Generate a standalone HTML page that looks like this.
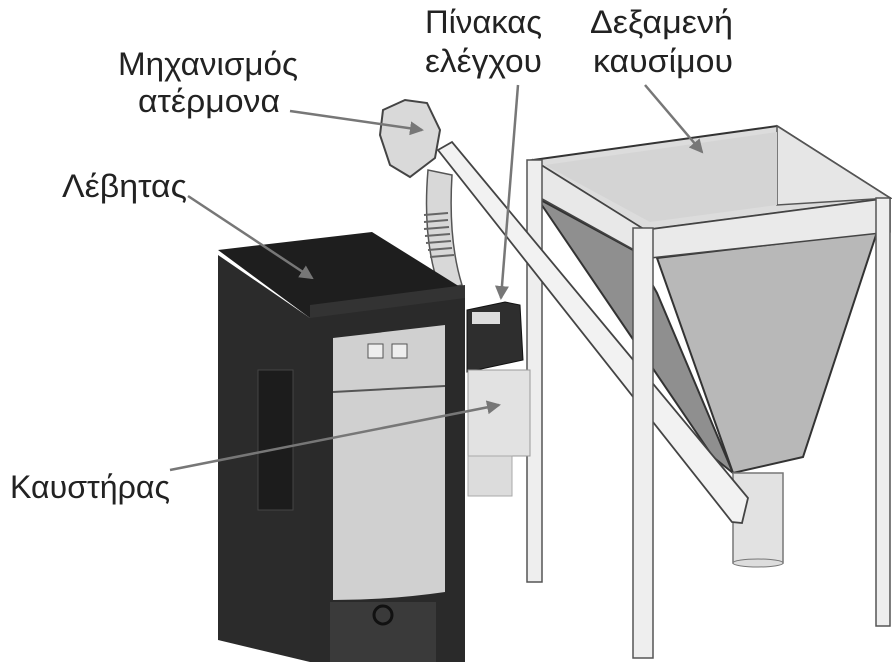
<!DOCTYPE html>
<html><head><meta charset="utf-8"><style>
html,body{margin:0;padding:0;background:#fff;}
svg{display:block}
text{font-family:"Liberation Sans","DejaVu Sans",sans-serif;font-size:32px;fill:#222}
</style></head><body>
<svg width="892" height="662" viewBox="0 0 892 662" xmlns="http://www.w3.org/2000/svg">
<defs><marker id="a" markerWidth="14" markerHeight="14" refX="12" refY="7" orient="auto" markerUnits="userSpaceOnUse" viewBox="0 0 14 14"><path d="M0,0 L14,7 L0,14z" fill="#777"/></marker></defs>
<rect width="892" height="662" fill="#fff"/>
<!-- hopper interior -->
<polygon points="533,160 777,126 890,198 645,230" fill="#dcdcdc" stroke="#333" stroke-width="2"/>
<polygon points="777,126 777,205 890,198" fill="#e6e6e6" stroke="#555" stroke-width="1.5"/>
<polygon points="545,165 777,132 777,205 650,222" fill="#d4d4d4"/>
<!-- funnel side (darker) -->
<polygon points="537,198 633,250 657,293 733,473 713,457" fill="#8f8f8f" stroke="#333" stroke-width="2"/>
<!-- funnel front -->
<polygon points="657,258 877,232 803,457 733,473" fill="#b8b8b8" stroke="#333" stroke-width="2"/>
<!-- cylinder -->
<rect x="733" y="473" width="50" height="90" fill="#e2e2e2" stroke="#777" stroke-width="1.5"/>
<ellipse cx="758" cy="563" rx="25" ry="4" fill="#ddd" stroke="#777"/>
<!-- side bar & front bar -->
<polygon points="533,160 645,230 645,256 537,196" fill="#e8e8e8" stroke="#444" stroke-width="1.5"/>
<polygon points="645,230 890,198 890,232 650,258" fill="#eaeaea" stroke="#444" stroke-width="1.5"/>
<!-- legs -->
<rect x="527" y="160" width="15" height="422" fill="#eee" stroke="#555" stroke-width="1.5"/>
<!-- auger tube -->
<polygon points="438,150 452,142 748,498 742,523 732,522" fill="#f2f2f2" stroke="#444" stroke-width="1.8"/>
<rect x="633" y="228" width="20" height="430" fill="#eee" stroke="#555" stroke-width="1.5"/>
<rect x="876" y="198" width="14" height="428" fill="#eee" stroke="#555" stroke-width="1.5"/>
<!-- hose -->
<path d="M428,170 Q422,240 440,290 L462,285 Q448,240 452,175 Z" fill="#d8d8d8" stroke="#555" stroke-width="1.5"/>
<g stroke="#666" stroke-width="2"><line x1="424" y1="215" x2="448" y2="213"/><line x1="424" y1="222" x2="448" y2="220"/><line x1="424" y1="229" x2="449" y2="227"/><line x1="425" y1="236" x2="450" y2="234"/><line x1="426" y1="243" x2="451" y2="241"/><line x1="428" y1="250" x2="452" y2="248"/><line x1="430" y1="257" x2="454" y2="255"/></g>
<!-- motor -->
<polygon points="383,110 405,100 427,103 440,130 435,158 410,177 390,165 380,135" fill="#d9d9d9" stroke="#444" stroke-width="2"/>
<!-- control panel & burner -->
<polygon points="467,310 505,302 520,305 523,360 467,372" fill="#2e2e2e" stroke="#111"/>
<rect x="472" y="312" width="28" height="12" fill="#ddd"/>
<rect x="468" y="370" width="62" height="86" fill="#e2e2e2" stroke="#999"/>
<rect x="468" y="456" width="44" height="40" fill="#dcdcdc" stroke="#aaa"/>
<!-- boiler -->
<polygon points="218,255 310,318 310,662 218,640" fill="#2b2b2b"/>
<rect x="258" y="370" width="35" height="140" fill="#1c1c1c" stroke="#444"/>
<polygon points="218,250 372,232 465,290 310,318" fill="#1e1e1e"/>
<polygon points="310,305 465,285 465,300 310,330" fill="#333"/>
<polygon points="310,318 465,298 465,662 310,662" fill="#2a2a2a"/>
<path d="M333,338 L445,325 L445,592 Q390,600 333,600 Z" fill="#d0d0d0"/>
<line x1="333" y1="392" x2="445" y2="386" stroke="#555" stroke-width="2"/>
<rect x="368" y="344" width="15" height="14" fill="#eee" stroke="#555"/>
<rect x="392" y="344" width="15" height="14" fill="#eee" stroke="#555"/>
<rect x="330" y="602" width="106" height="60" fill="#3a3a3a"/>
<circle cx="383" cy="615" r="9" fill="none" stroke="#111" stroke-width="3"/>
<!-- labels -->
<text x="118" y="75" textLength="180" lengthAdjust="spacingAndGlyphs">Μηχανισμός</text>
<text x="138" y="112" textLength="142" lengthAdjust="spacingAndGlyphs">ατέρμονα</text>
<text x="62" y="197" textLength="125" lengthAdjust="spacingAndGlyphs">Λέβητας</text>
<text x="425" y="33" textLength="117" lengthAdjust="spacingAndGlyphs">Πίνακας</text>
<text x="425" y="72" textLength="117" lengthAdjust="spacingAndGlyphs">ελέγχου</text>
<text x="590" y="33" textLength="143" lengthAdjust="spacingAndGlyphs">Δεξαμενή</text>
<text x="593" y="72" textLength="140" lengthAdjust="spacingAndGlyphs">καυσίμου</text>
<text x="10" y="498" textLength="160" lengthAdjust="spacingAndGlyphs">Καυστήρας</text>
<!-- arrows -->
<g stroke="#777" stroke-width="2.5" fill="none" marker-end="url(#a)">
<line x1="290" y1="111" x2="422" y2="130"/>
<line x1="188" y1="196" x2="312" y2="278"/>
<line x1="518" y1="85" x2="501" y2="298"/>
<line x1="645" y1="85" x2="702" y2="152"/>
<line x1="170" y1="470" x2="499" y2="405"/>
</g>
</svg>
</body></html>
